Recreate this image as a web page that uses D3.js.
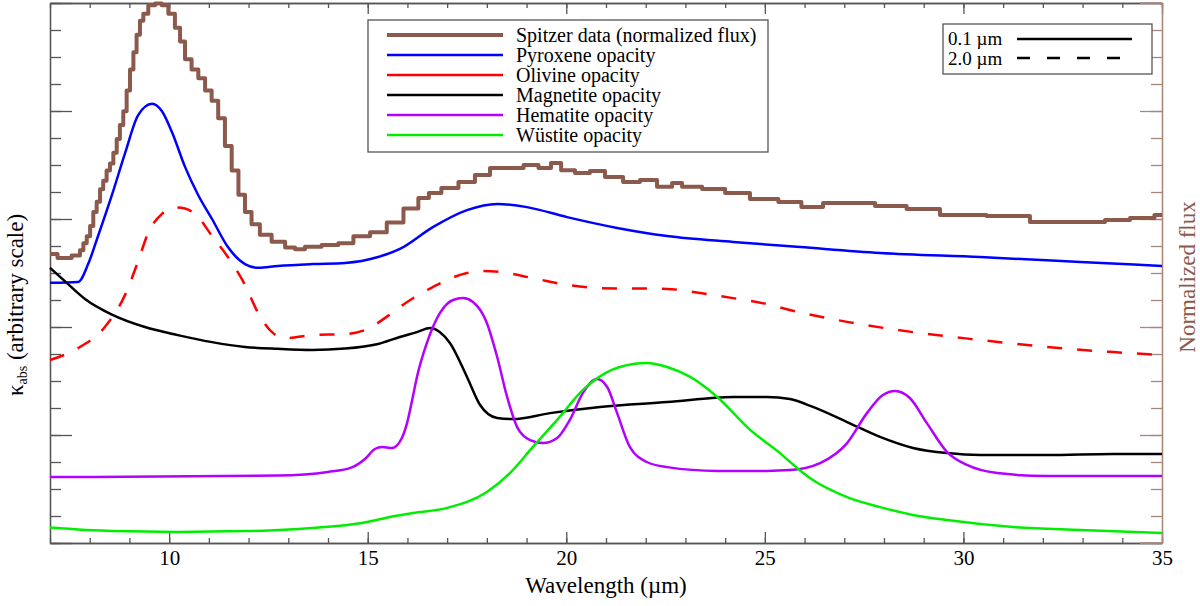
<!DOCTYPE html>
<html>
<head>
<meta charset="utf-8">
<script src="https://cdn.jsdelivr.net/npm/d3@7"></script>
<style>
    body { margin: 0; background: #fff; }
    svg text { font-family: "Liberation Serif", "Times New Roman", "DejaVu Serif", serif; }
</style>
</head>
<body>
<svg id="chart"></svg>
<script>
// values: [wavelength (um), arbitrary units]
const spitzerData = [[7.00, 10.70], [7.38, 10.56], [7.71, 10.65], [7.80, 10.84], [7.88, 11.10], [7.97, 11.36], [8.05, 11.74], [8.13, 12.26], [8.22, 12.64], [8.30, 13.10], [8.38, 13.42], [8.47, 13.80], [8.55, 14.06], [8.64, 14.45], [8.72, 14.96], [8.80, 15.48], [8.89, 15.99], [8.97, 16.76], [9.06, 17.54], [9.14, 18.18], [9.22, 18.82], [9.31, 19.34], [9.39, 19.60], [9.56, 19.92], [9.73, 19.98], [9.90, 19.92], [10.06, 19.60], [10.23, 19.08], [10.32, 18.57], [10.48, 17.92], [10.65, 17.54], [10.82, 17.21], [10.99, 16.76], [11.15, 16.38], [11.32, 15.73], [11.49, 14.70], [11.66, 13.80], [11.83, 12.90], [11.99, 12.26], [12.16, 11.81], [12.41, 11.42], [12.75, 11.16], [13.09, 10.94], [13.25, 10.88], [13.59, 10.97], [14.09, 11.04], [14.43, 11.10], [14.85, 11.36], [15.27, 11.51], [15.69, 11.87], [16.11, 12.39], [16.44, 12.78], [16.64, 12.96], [17.07, 13.15], [17.50, 13.37], [17.90, 13.63], [18.26, 13.89], [18.76, 13.89], [19.09, 14.00], [19.51, 13.89], [19.72, 14.07], [20.02, 13.81], [20.42, 13.70], [20.77, 13.78], [21.18, 13.56], [21.68, 13.37], [22.03, 13.44], [22.54, 13.19], [22.79, 13.33], [23.04, 13.19], [23.80, 13.11], [24.20, 12.96], [25.05, 12.74], [25.63, 12.63], [26.21, 12.44], [26.72, 12.59], [27.32, 12.59], [28.23, 12.48], [28.91, 12.37], [29.91, 12.15], [31.25, 12.11], [32.10, 11.89], [33.36, 11.89], [33.77, 11.96], [34.62, 12.04], [35.00, 12.15]];

const pyroxeneData = [[7.00, 9.64], [7.71, 9.67], [7.96, 10.33], [8.21, 11.37], [8.56, 12.89], [8.89, 14.44], [9.22, 15.85], [9.57, 16.27], [9.82, 15.99], [10.07, 15.22], [10.40, 13.93], [10.73, 12.89], [11.08, 12.00], [11.48, 10.96], [11.91, 10.33], [12.24, 10.19], [12.74, 10.26], [13.60, 10.33], [14.43, 10.37], [15.26, 10.59], [15.81, 10.89], [16.64, 11.70], [17.50, 12.33], [18.26, 12.56], [19.01, 12.44], [20.02, 12.07], [21.28, 11.67], [22.54, 11.37], [24.20, 11.15], [25.89, 10.96], [27.90, 10.74], [30.42, 10.59], [32.94, 10.41], [35.00, 10.26]];

const olivineData = [[7.00, 6.78], [7.71, 7.22], [8.38, 8.00], [8.89, 9.19], [9.22, 10.44], [9.47, 11.48], [9.82, 12.19], [10.15, 12.43], [10.40, 12.39], [10.73, 12.07], [11.08, 11.37], [11.48, 10.59], [11.91, 9.56], [12.24, 8.52], [12.59, 7.81], [12.92, 7.59], [13.60, 7.70], [14.43, 7.74], [14.93, 7.89], [15.61, 8.52], [15.81, 8.74], [16.64, 9.48], [17.50, 10.00], [17.90, 10.07], [18.33, 10.04], [19.16, 9.81], [20.02, 9.56], [20.85, 9.44], [22.54, 9.41], [23.37, 9.26], [24.20, 9.07], [25.05, 8.85], [25.63, 8.63], [27.07, 8.19], [28.73, 7.81], [30.42, 7.52], [32.10, 7.26], [33.77, 7.07], [35.00, 6.96]];

const magnetiteData = [[7.00, 10.19], [7.38, 9.69], [7.88, 9.04], [8.56, 8.46], [9.39, 8.00], [10.22, 7.70], [11.08, 7.44], [11.91, 7.26], [12.74, 7.19], [13.60, 7.15], [14.43, 7.20], [15.26, 7.37], [15.81, 7.63], [16.24, 7.81], [16.57, 7.96], [16.82, 7.81], [17.07, 7.41], [17.50, 6.15], [17.83, 5.11], [18.26, 4.63], [18.66, 4.59], [19.59, 4.81], [20.85, 5.04], [22.54, 5.22], [24.20, 5.41], [25.05, 5.41], [25.63, 5.33], [26.21, 5.04], [27.07, 4.48], [27.90, 3.93], [28.73, 3.52], [29.59, 3.33], [30.42, 3.26], [32.10, 3.26], [33.77, 3.30], [35.00, 3.30]];

const hematiteData = [[7.00, 2.44], [12.74, 2.50], [14.00, 2.63], [14.60, 2.80], [14.93, 3.11], [15.18, 3.48], [15.36, 3.56], [15.61, 3.52], [15.86, 3.89], [15.99, 4.44], [16.12, 5.30], [16.24, 6.15], [16.49, 7.41], [16.82, 8.52], [17.15, 9.00], [17.40, 9.07], [17.65, 8.93], [18.00, 8.15], [18.26, 6.89], [18.51, 5.41], [18.76, 4.30], [19.09, 3.81], [19.41, 3.70], [19.77, 3.89], [20.09, 4.56], [20.42, 5.56], [20.77, 6.07], [21.03, 5.78], [21.28, 4.81], [21.60, 3.56], [22.03, 3.00], [22.54, 2.81], [23.80, 2.67], [25.05, 2.67], [25.63, 2.70], [26.39, 2.96], [27.07, 3.70], [27.57, 4.81], [27.97, 5.48], [28.28, 5.63], [28.65, 5.37], [29.08, 4.44], [29.59, 3.37], [30.09, 2.89], [30.85, 2.59], [32.10, 2.48], [35.00, 2.48]];

const wustiteData = [[7.00, 0.57], [8.56, 0.44], [10.22, 0.41], [11.91, 0.44], [13.60, 0.56], [14.86, 0.74], [15.69, 1.00], [16.14, 1.11], [17.00, 1.30], [18.00, 1.89], [18.58, 2.59], [19.16, 3.56], [19.77, 4.56], [20.42, 5.67], [21.03, 6.33], [21.68, 6.63], [22.03, 6.67], [22.54, 6.52], [23.12, 6.15], [23.80, 5.41], [24.63, 4.19], [25.38, 3.33], [25.81, 2.78], [26.21, 2.33], [27.07, 1.70], [27.90, 1.33], [28.73, 1.04], [29.59, 0.85], [31.25, 0.59], [32.94, 0.48], [35.00, 0.37]];

const seriesLabels = ["Spitzer data (normalized flux)", "Pyroxene opacity", "Olivine opacity", "Magnetite opacity", "Hematite opacity", "Wüstite opacity"];
const grainLabels = ["0.1 µm", "2.0 µm"];
const xDomain = [7, 35];
const xMajorTicks = [10, 15, 20, 25, 30, 35];
const yDomain = [0, 20];

const serif = '"Liberation Serif", "Times New Roman", "DejaVu Serif", serif';

class SpectrumPlot {
    constructor(_config) {
        this.config = {
            parentElement: _config.parentElement,
            containerWidth: _config.containerWidth || 1200,
            containerHeight: _config.containerHeight || 606,
        }
        this.config.margin = _config.margin || { top: 3, bottom: 63, right: 38, left: 50 }
        this.initVis();
    }

    initVis() {
        let vis = this;

        vis.width = vis.config.containerWidth - vis.config.margin.left - vis.config.margin.right;
        vis.height = vis.config.containerHeight - vis.config.margin.top - vis.config.margin.bottom;

        vis.svg = d3.select(vis.config.parentElement)
            .attr("width", vis.config.containerWidth)
            .attr("height", vis.config.containerHeight);
        vis.chart = vis.svg.append("g")
            .attr("transform", `translate(${vis.config.margin.left},${vis.config.margin.top})`);

        vis.xScale = d3.scaleLinear().domain(xDomain).range([0, vis.width]);
        vis.yScale = d3.scaleLinear().domain(yDomain).range([vis.height, 0]);
        // flux axis on the right, arbitrary units as well
        vis.fluxScale = d3.scaleLinear().domain(yDomain).range([vis.height, 0]);

        vis.series = [
            { label: seriesLabels[0], data: spitzerData, color: "#8c5a4c", width: 4, scale: vis.fluxScale, step: true },
            { label: seriesLabels[1], data: pyroxeneData, color: "#0000ff", width: 2.5, scale: vis.yScale },
            { label: seriesLabels[2], data: olivineData, color: "#ff0000", width: 2.5, scale: vis.yScale, dash: "15,15" },
            { label: seriesLabels[3], data: magnetiteData, color: "#000000", width: 2.5, scale: vis.yScale },
            { label: seriesLabels[4], data: hematiteData, color: "#b400ff", width: 2.5, scale: vis.yScale },
            { label: seriesLabels[5], data: wustiteData, color: "#00ee00", width: 2.5, scale: vis.yScale },
        ];

        vis.render();
    }

    drawAxis(axis, transform, color) {
        let vis = this;
        let g = vis.chart.append("g").attr("transform", transform).call(axis);
        g.select(".domain").attr("stroke", color).attr("stroke-width", 1.3);
        g.selectAll(".tick line").attr("stroke", color).attr("stroke-width", 1.3);
        return g;
    }

    render() {
        let vis = this;
        const frame = "#555";
        const fluxColor = "#a8867c";
        const minorX = d3.range(xDomain[0], xDomain[1] + 1);
        const minorY = d3.range(yDomain[0], yDomain[1] + 1);
        const majorY = d3.range(yDomain[0], yDomain[1] + 1, 4);

        // bottom and top
        vis.drawAxis(d3.axisBottom(vis.xScale).tickValues(minorX).tickSize(-5).tickSizeOuter(0).tickFormat(""), `translate(0,${vis.height})`, frame);
        let bottom = vis.drawAxis(d3.axisBottom(vis.xScale).tickValues(xMajorTicks).tickSize(-11).tickSizeOuter(0).tickPadding(7), `translate(0,${vis.height})`, frame);
        bottom.attr("font-family", serif);
        bottom.selectAll("text")
            .attr("font-family", serif)
            .attr("font-size", 21)
            .attr("fill", "#000");
        vis.drawAxis(d3.axisTop(vis.xScale).tickValues(minorX).tickSize(-5).tickSizeOuter(0).tickFormat(""), "translate(0,0)", frame);
        vis.drawAxis(d3.axisTop(vis.xScale).tickValues(xMajorTicks).tickSize(-11).tickSizeOuter(0).tickFormat(""), "translate(0,0)", frame);

        // left (opacity) and right (flux)
        vis.drawAxis(d3.axisLeft(vis.yScale).tickValues(minorY).tickSize(-11).tickSizeOuter(0).tickFormat(""), "translate(0,0)", frame);
        vis.drawAxis(d3.axisLeft(vis.yScale).tickValues(majorY).tickSize(-22).tickSizeOuter(0).tickFormat(""), "translate(0,0)", frame);
        vis.drawAxis(d3.axisRight(vis.fluxScale).tickValues(minorY).tickSize(-11).tickSizeOuter(0).tickFormat(""), `translate(${vis.width},0)`, fluxColor);
        vis.drawAxis(d3.axisRight(vis.fluxScale).tickValues(majorY).tickSize(-22).tickSizeOuter(0).tickFormat(""), `translate(${vis.width},0)`, fluxColor);
        [0, vis.height].forEach(y => {
            vis.chart.append("line")
                .attr("x1", vis.width - 22).attr("x2", vis.width)
                .attr("y1", y).attr("y2", y)
                .attr("stroke", fluxColor).attr("stroke-width", 1.5);
        });

        // curves
        vis.series.forEach(s => {
            let line = d3.line()
                .x(d => vis.xScale(d[0]))
                .y(d => s.scale(d[1]))
                .curve(s.step ? d3.curveStep : d3.curveMonotoneX);
            vis.chart.append("path")
                .datum(s.data)
                .attr("d", line)
                .attr("fill", "none")
                .attr("stroke", s.color)
                .attr("stroke-width", s.width)
                .attr("stroke-dasharray", s.dash || null)
                .attr("stroke-linejoin", "round");
        });

        // axis titles
        vis.svg.append("text")
            .attr("x", vis.config.margin.left + vis.width / 2)
            .attr("y", 593)
            .attr("text-anchor", "middle")
            .attr("font-family", serif)
            .attr("font-size", 23)
            .text("Wavelength (µm)");

        let yLabel = vis.svg.append("text")
            .attr("transform", "translate(23,305) rotate(-90)")
            .attr("text-anchor", "middle")
            .attr("font-family", serif)
            .attr("font-size", 23);
        yLabel.append("tspan").text("κ");
        yLabel.append("tspan").attr("font-size", 14).attr("dy", 4).text("abs");
        yLabel.append("tspan").attr("dy", -4).text(" (arbitrary scale)");

        vis.svg.append("text")
            .attr("transform", "translate(1195,277) rotate(-90)")
            .attr("text-anchor", "middle")
            .attr("font-family", serif)
            .attr("font-size", 23)
            .attr("fill", "#8c5a4c")
            .text("Normalized flux");

        // legend of species
        let legend = vis.svg.append("g");
        legend.append("rect")
            .attr("x", 368).attr("y", 20)
            .attr("width", 400).attr("height", 132)
            .attr("fill", "#fff").attr("stroke", frame).attr("stroke-width", 1.3);
        vis.series.forEach((s, i) => {
            legend.append("line")
                .attr("x1", 387).attr("x2", 503)
                .attr("y1", 35 + i * 20).attr("y2", 35 + i * 20)
                .attr("stroke", s.color)
                .attr("stroke-width", i === 0 ? 4 : 2.5);
            legend.append("text")
                .attr("x", 516).attr("y", 42 + i * 20)
                .attr("font-family", serif)
                .attr("font-size", 20)
                .text(s.label);
        });

        // legend of grain sizes
        let sizes = vis.svg.append("g");
        sizes.append("rect")
            .attr("x", 943).attr("y", 24)
            .attr("width", 209).attr("height", 50)
            .attr("fill", "#fff").attr("stroke", frame).attr("stroke-width", 1.3);
        grainLabels.forEach((t, i) => {
            sizes.append("text")
                .attr("x", 948).attr("y", 45 + i * 20)
                .attr("font-family", serif)
                .attr("font-size", 19)
                .text(t);
            sizes.append("line")
                .attr("x1", 1017).attr("x2", 1132)
                .attr("y1", 39 + i * 19).attr("y2", 39 + i * 19)
                .attr("stroke", "#000").attr("stroke-width", 2.5)
                .attr("stroke-dasharray", i === 1 ? "13,17" : null);
        });
    }
}

new SpectrumPlot({ parentElement: "#chart" });
</script>
</body>
</html>
